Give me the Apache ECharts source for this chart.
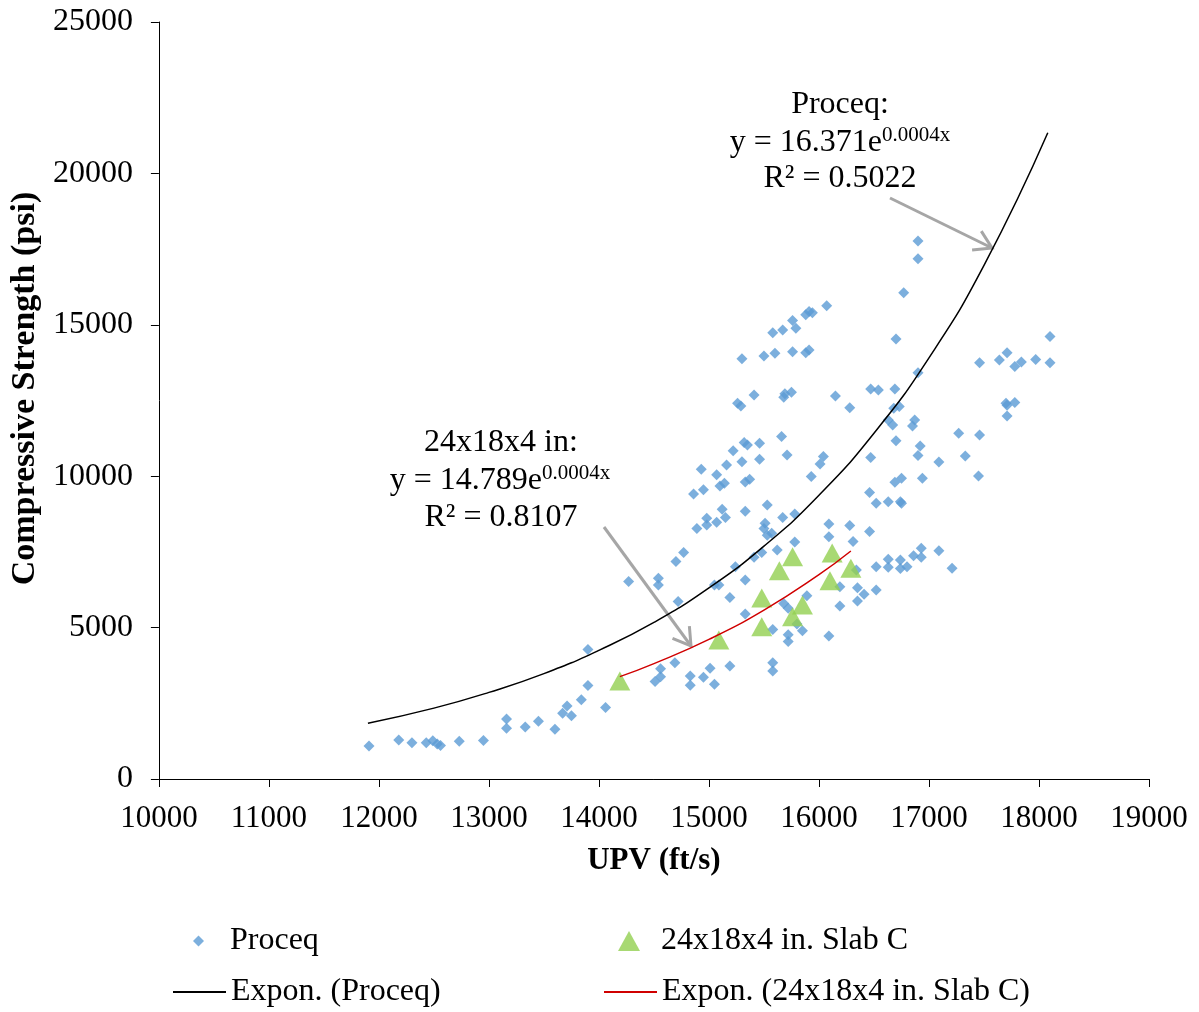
<!DOCTYPE html>
<html>
<head>
<meta charset="utf-8">
<script src="https://cdn.jsdelivr.net/npm/echarts@6/dist/echarts.min.js"></script>
<style>
    html, body { margin: 0; padding: 0; background: #fff; }
    #chart { width: 1199px; height: 1012px; }
</style>
</head>
<body>
<div id="chart"></div>
<script>
(function () {
    'use strict';

    //Proceq 测点 (UPV, 强度)
    var proceqX = [11910, 12180, 12300, 12430, 12490, 12530, 12560, 12730, 12950,
        13160, 13160, 13330, 13450, 13600, 13670, 13710, 13750, 13840, 13900, 13900, 14060,
        14510, 14560, 14560, 14690, 14830, 14830, 14720, 14270, 14540, 14540,
        15010, 14950, 15050, 15190, 15580, 15580,
        15070, 15100, 15140, 15330, 15370, 14860, 14950, 15530, 15120, 15330,
        15670, 15780, 14980, 15150, 14890, 14980, 15070, 15510, 15500, 15530,
        15570, 14770, 14700, 15780, 15620, 15240, 15410, 15480, 15330, 15050,
        15090, 15190, 15330, 15680, 15720, 15800, 15850, 15580, 15720, 15720,
        15760, 15790, 15670, 15580, 15300, 15500, 15600, 15760, 15880, 15910,
        15260, 15290, 15410, 15680, 15690, 15750, 15660, 15710, 15320, 15350,
        15460, 15220, 14930, 15160, 15300, 15460,
        16770, 16070, 15880, 15910, 15940, 16700, 16900, 16470, 16540, 16690,
        16150, 16280, 16680, 16730, 16630, 16670, 16870, 16850, 17270, 16700,
        16920, 16900, 17090, 16470, 16040, 16010, 15930, 16750, 16940,
        16900, 16900,
        18100, 17460, 17640, 17710, 17780, 17840, 17970, 18100, 17700, 17710,
        17780, 17710, 17460, 17330, 17450, 17090, 17210, 16930, 16930,
        16690, 16460, 16520, 16630, 16740, 16750, 16090, 16280, 16460, 16090,
        16310, 16860, 16630, 16740, 16630, 16740, 16800, 16520, 16340, 16190,
        16350, 16410, 16350, 16520, 16190, 16090, 15890];
    var proceqY = [1090, 1290, 1200, 1200, 1260, 1160, 1110, 1250, 1270,
        1980, 1680, 1720, 1910, 1640, 2170, 2410, 2090, 2620, 3090, 4280, 2360,
        3220, 3380, 3640, 3840, 3400, 3100, 5860, 6520, 6630, 6410,
        3660, 3360, 3130, 3730, 3840, 3570,
        10050, 9680, 9770, 9810, 9900, 9410, 9550, 9050, 8910, 8840,
        8640, 8750, 8610, 8640, 8270, 8390, 8480, 8450, 8270, 8050,
        8120, 7480, 7180, 7830, 7560, 7010, 7320, 7480, 6570, 6410,
        6410, 5990, 5450, 5800, 5640, 5120, 4900, 4940, 4760, 4540,
        15140, 14890, 14830, 14740, 13880, 13970, 14060, 14110, 14080, 14170,
        12410, 12320, 12680, 12610, 12720, 12770, 11310, 10700, 11110, 11030,
        11090, 10840, 10230, 10370, 10480, 10560,
        16060, 15630, 15330, 15440, 15400, 14530, 13420, 12880, 12850, 12880,
        12650, 12260, 12240, 12300, 11860, 11690, 11860, 11660, 11420, 11170,
        11000, 10680, 10470, 10620, 10650, 10400, 9990, 9930, 9930,
        17770, 17180,
        14610, 13750, 13840, 14080, 13620, 13770, 13850, 13750, 12410, 12340,
        12430, 11990, 11360, 10670, 10010, 7540, 6960, 7620, 7320,
        9800, 9460, 9110, 9160, 9160, 9110, 8420, 8370, 8170, 8000,
        7840, 7370, 7260, 7230, 6990, 6950, 7010, 7010, 6900, 6350,
        6320, 6100, 5880, 6240, 5710, 4720, 6050];

    //24x18x4 in. Slab C
    var slabX = [14190, 15090, 15480, 15480, 15640, 15760, 15760, 15850, 16120, 16100, 16290];
    var slabY = [3240, 4590, 5030, 5980, 6880, 7340, 5360, 5750, 7460, 6550, 6960];

    //趋势线
    var fitProceqX = [11900, 12500, 13000, 13500, 14000, 14500, 15000, 15500, 16000, 16500, 17000, 17500, 18080];
    var fitProceqY = [1840, 2340, 2860, 3480, 4250, 5170, 6310, 7690, 9370, 11420, 13910, 16960, 21340];
    var fitSlabX = [14190, 14500, 15000, 15500, 16000, 16290];
    var fitSlabY = [3380, 3810, 4610, 5580, 6750, 7530];

    var names = ['Proceq', '24x18x4 in. Slab C', 'Expon. (Proceq)', 'Expon. (24x18x4 in. Slab C)'];

    var FONT = "'Liberation Serif', 'Times New Roman', serif";
    var FS = 31;
    var TS = 32;

    function zip(xs, ys) {
        return xs.map(function (x, i) { return [x, ys[i]]; });
    }

    //空心箭头 (折线)
    function arrow(x1, y1, x2, y2) {
        var ang = Math.atan2(y2 - y1, x2 - x1);
        var len = 20, spread = 0.55;
        var a1 = [x2 - len * Math.cos(ang - spread), y2 - len * Math.sin(ang - spread)];
        var a2 = [x2 - len * Math.cos(ang + spread), y2 - len * Math.sin(ang + spread)];
        var st = {stroke: '#A6A6A6', lineWidth: 3, fill: null};
        return [
            {type: 'line', shape: {x1: x1, y1: y1, x2: x2, y2: y2}, style: st},
            {type: 'polyline', shape: {points: [a1, [x2, y2], a2]}, style: st}
        ];
    }

    function label(x, y, text) {
        return {
            type: 'text', x: x, y: y,
            style: {text: text, font: TS + 'px ' + FONT, fill: '#000', align: 'center', verticalAlign: 'middle'}
        };
    }

    function eqn(x, y, base, sup) {
        return {
            type: 'text', x: x, y: y,
            style: {
                text: '{a|' + base + '}{b|' + sup + '}',
                align: 'center', verticalAlign: 'middle',
                rich: {
                    a: {fontSize: TS, fontFamily: FONT, fill: '#000', lineHeight: 37, verticalAlign: 'middle'},
                    b: {fontSize: 21, fontFamily: FONT, fill: '#000', lineHeight: 21, verticalAlign: 'top'}
                }
            }
        };
    }

    var graphics = []
        .concat(arrow(890, 198, 992, 248))
        .concat(arrow(604, 527, 691, 646))
        .concat([
            label(840, 105, 'Proceq:'),
            eqn(840, 143, 'y = 16.371e', '0.0004x'),
            label(840, 179, 'R² = 0.5022'),
            label(501, 443, '24x18x4 in:'),
            eqn(500, 481, 'y = 14.789e', '0.0004x'),
            label(501, 518, 'R² = 0.8107')
        ]);

    //图例文字, 前面留空以对齐
    function legendText(gap) {
        return {
            fontSize: TS, fontFamily: FONT, color: '#000',
            rich: {sp: {width: gap}, t: {fontSize: TS, fontFamily: FONT, color: '#000'}}
        };
    }
    function legendFmt(name) {
        return '{sp|}{t|' + name + '}';
    }

    var myChart = echarts.init(document.getElementById('chart'));
    var option = {
        backgroundColor: '#fff',
        animation: false,
        grid: {left: 158, right: 50, top: 22, bottom: 233},
        legend: [
            {data: [names[0]], left: 193, top: 925, padding: 0, itemWidth: 11, itemHeight: 11, selectedMode: false,
                formatter: legendFmt, textStyle: legendText(21)},
            {data: [names[1]], left: 618, top: 925, padding: 0, itemWidth: 22, itemHeight: 20, selectedMode: false,
                formatter: legendFmt, textStyle: legendText(16)},
            {data: [names[2]], left: 172, top: 976, padding: 0, itemWidth: 53, itemHeight: 14, selectedMode: false,
                itemStyle: {opacity: 0}, textStyle: legendText(0)},
            {data: [names[3]], left: 603, top: 976, padding: 0, itemWidth: 53, itemHeight: 14, selectedMode: false,
                itemStyle: {opacity: 0}, textStyle: legendText(0)}
        ],
        xAxis: {
            type: 'value', min: 10000, max: 19000, interval: 1000,
            name: 'UPV (ft/s)', nameLocation: 'middle', nameGap: 66,
            nameTextStyle: {fontSize: FS, fontFamily: FONT, fontWeight: 'bold', color: '#000'},
            axisLine: {show: true, lineStyle: {color: '#000', width: 1}},
            axisTick: {show: true, length: 8, lineStyle: {color: '#000'}},
            axisLabel: {fontSize: FS, fontFamily: FONT, color: '#000', margin: 24,
                formatter: function (v) { return String(v); }},
            splitLine: {show: false}
        },
        yAxis: {
            type: 'value', min: 0, max: 25000, interval: 5000,
            name: 'Compressive Strength (psi)', nameLocation: 'middle', nameGap: 103, nameRotate: 90,
            nameTextStyle: {fontSize: 34, fontFamily: FONT, fontWeight: 'bold', color: '#000', padding: [0, 0, 0, 24]},
            axisLine: {show: true, lineStyle: {color: '#000', width: 1}},
            axisTick: {show: true, length: 8, lineStyle: {color: '#000'}},
            axisLabel: {fontSize: 32, fontFamily: FONT, color: '#000', margin: 26,
                formatter: function (v) { return String(v); }},
            splitLine: {show: false}
        },
        series: [
            {
                name: names[0], type: 'scatter', symbol: 'diamond', symbolSize: 11,
                itemStyle: {color: '#5B9BD5'}, data: zip(proceqX, proceqY), z: 3
            },
            {
                name: names[1], type: 'scatter', symbol: 'triangle', symbolSize: [21, 19],
                itemStyle: {color: '#92D050'}, data: zip(slabX, slabY), z: 4
            },
            {
                name: names[2], type: 'line', smooth: true, symbol: 'none',
                lineStyle: {color: '#000', width: 1.5}, itemStyle: {color: '#000'},
                data: zip(fitProceqX, fitProceqY), z: 5
            },
            {
                name: names[3], type: 'line', smooth: true, symbol: 'none',
                lineStyle: {color: '#D00000', width: 1.5}, itemStyle: {color: '#D00000'},
                data: zip(fitSlabX, fitSlabY), z: 5
            }
        ],
        graphic: graphics
    };
    myChart.setOption(option);
})();
</script>
</body>
</html>
